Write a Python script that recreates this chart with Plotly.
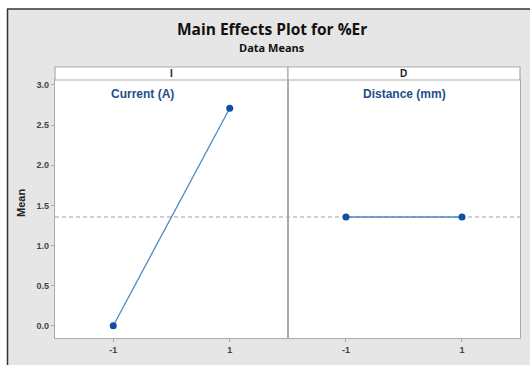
import plotly.graph_objects as go

# Data
levels = [-1, 1]
current_means = [0.0, 2.71]
distance_means = [1.355, 1.355]
grand_mean = 1.355
factor_codes = ["I", "D"]
factor_names = ["Current (A)", "Distance (mm)"]
y_ticks = [0.0, 0.5, 1.0, 1.5, 2.0, 2.5, 3.0]
y_ticktext = ["0.0", "0.5", "1.0", "1.5", "2.0", "2.5", "3.0"]

W, H = 530, 365
# plot area in viewport pixels: x 55..520, y 80..338
L, R, T, B = 55, W - 520, 80, H - 338
pw, ph = W - L - R, H - T - B

def px_x(p):
    return (p - L) / pw

def px_y(p):
    return (H - B - p) / ph

line_col = "#4f88c6"
mark_col = "#0d4fa3"
axis_col = "#ababab"
tick_font = dict(family="Liberation Sans, Arial", size=9, color="#444444")

fig = go.Figure()
for i, (vals, xa, ya) in enumerate([(current_means, "x", "y"), (distance_means, "x2", "y2")]):
    fig.add_trace(go.Scatter(
        x=levels, y=vals, xaxis=xa, yaxis=ya, mode="lines+markers",
        line=dict(color=line_col, width=1.3),
        marker=dict(color=mark_col, size=7, symbol="circle"),
        showlegend=False, hoverinfo="skip"))

yrange = [-0.153, 3.062]
common_x = dict(range=[-2, 2], tickvals=levels, ticktext=["<b>-1</b>", "<b>1</b>"], ticks="outside",
                ticklen=3, tickcolor=axis_col, showgrid=False, zeroline=False,
                showline=True, linecolor=axis_col, linewidth=1.2, mirror=True,
                tickfont=tick_font, automargin=False)
fig.update_layout(
    width=W, height=H,
    margin=dict(l=L, r=R, t=T, b=B),
    paper_bgcolor="#e6e6e6", plot_bgcolor="white",
    xaxis=dict(domain=[0, 0.501], **common_x),
    xaxis2=dict(domain=[0.501, 1], anchor="y2", **common_x),
    yaxis=dict(range=yrange, tickvals=y_ticks, ticktext=["<b>" + t + "</b>" for t in y_ticktext],
               ticks="outside", ticklen=3, tickcolor=axis_col, showgrid=False, zeroline=False,
               showline=True, linecolor=axis_col, linewidth=1.2, mirror=True,
               tickfont=tick_font, automargin=False),
    yaxis2=dict(range=yrange, anchor="x2", showticklabels=False, ticks="", showgrid=False,
                zeroline=False, showline=True, linecolor=axis_col, linewidth=1.2, mirror=True,
                automargin=False),
)

shapes = []
# white outer margin and dark frame
shapes.append(dict(type="rect", xref="paper", yref="paper", x0=px_x(0), x1=px_x(W), y0=px_y(9), y1=px_y(0),
                   fillcolor="white", line=dict(width=0), layer="below"))
shapes.append(dict(type="rect", xref="paper", yref="paper", x0=px_x(0), x1=px_x(7), y0=px_y(H), y1=px_y(0),
                   fillcolor="white", line=dict(width=0), layer="below"))
shapes.append(dict(type="line", xref="paper", yref="paper", x0=px_x(7.5), x1=px_x(7.5), y0=px_y(H), y1=px_y(9),
                   line=dict(color="#333333", width=1.5)))
shapes.append(dict(type="line", xref="paper", yref="paper", x0=px_x(7), x1=px_x(W), y0=px_y(9), y1=px_y(9),
                   line=dict(color="#333333", width=1.5)))
# strips
for x0, x1 in [(0, 0.501), (0.501, 1)]:
    shapes.append(dict(type="rect", xref="paper", yref="paper", x0=x0, x1=x1, y0=1, y1=px_y(67),
                       fillcolor="white", line=dict(color=axis_col, width=1.2)))
# grand mean line
shapes.append(dict(type="line", xref="paper", yref="y", x0=0, x1=1, y0=grand_mean, y1=grand_mean,
                   line=dict(color="#a0a0a0", width=1, dash="4px,3px"), layer="below"))
fig.update_layout(shapes=shapes)

ann = []
ann.append(dict(text="<b>Main Effects Plot for %Er</b>", xref="paper", yref="paper", x=px_x(272), y=px_y(29),
                showarrow=False, font=dict(family="Open Sans", size=15.5, color="#111111"),
                xanchor="center", yanchor="middle"))
ann.append(dict(text="<b>Data Means</b>", xref="paper", yref="paper", x=px_x(272), y=px_y(47.5),
                showarrow=False, font=dict(family="Open Sans", size=11, color="#111111"),
                xanchor="center", yanchor="middle"))
ann.append(dict(text="<b>Mean</b>", xref="paper", yref="paper", x=px_x(21), y=px_y(203),
                showarrow=False, textangle=-90, font=dict(family="Liberation Sans, Arial", size=11, color="#222222"),
                xanchor="center", yanchor="middle"))
for code, xc in zip(factor_codes, [0.2505, 0.7505]):
    ann.append(dict(text="<b>" + code + "</b>", xref="paper", yref="paper", x=xc, y=px_y(73.8),
                    showarrow=False, font=dict(family="Liberation Sans, Arial", size=10, color="#222222"),
                    xanchor="center", yanchor="middle"))
for name, xc in zip(factor_names, [142.5, 404.5]):
    ann.append(dict(text="<b>" + name + "</b>", xref="paper", yref="paper", x=px_x(xc), y=px_y(94),
                    showarrow=False, font=dict(family="Liberation Sans, Arial", size=12, color="#1f4e8c"),
                    xanchor="center", yanchor="middle"))
fig.update_layout(annotations=ann)

fig.write_html("out.html", config={"displayModeBar": False},
               post_script="document.body.style.margin='0';document.documentElement.style.overflow='hidden';document.body.style.overflow='hidden';")
